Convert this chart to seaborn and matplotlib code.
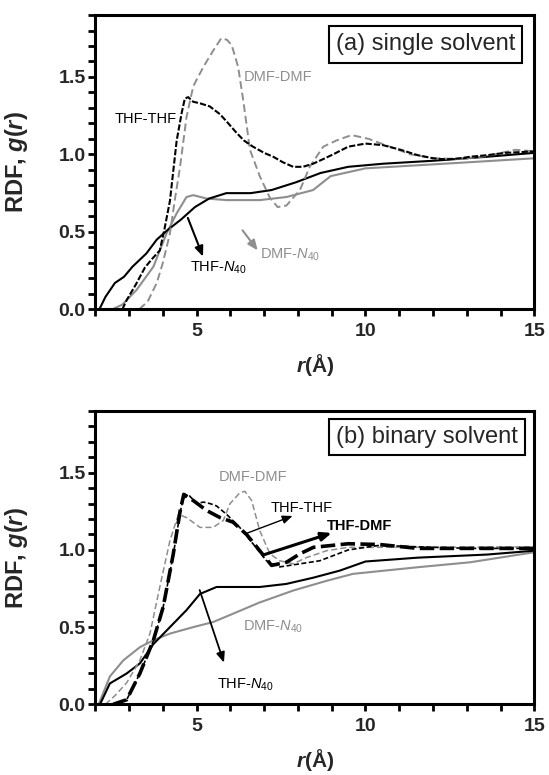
import matplotlib
matplotlib.use('Agg')
import matplotlib.pyplot as plt
from matplotlib.ticker import MultipleLocator
import pandas as pd
import seaborn as sns

# ---- panel (a): single solvent ----
a_thf_thf_r = [2.8, 2.93, 3.2, 3.47, 3.7, 3.91, 4.05, 4.21, 4.41, 4.56, 4.65, 4.75, 4.9, 5.1, 5.39, 5.69,
               5.9, 6.18, 6.4, 6.67, 7.0, 7.27, 7.55, 7.86, 8.15, 8.45, 8.75, 9.04, 9.49, 10.0, 10.52,
               11.04, 11.55, 12.0, 12.38, 12.8, 13.1, 13.6, 14.13, 14.6, 15.0]
a_thf_thf_g = [0.0, 0.06, 0.16, 0.27, 0.33, 0.38, 0.52, 0.70, 1.09, 1.27, 1.36, 1.37, 1.34, 1.33, 1.31, 1.26,
               1.21, 1.14, 1.09, 1.05, 1.01, 0.985, 0.95, 0.92, 0.92, 0.94, 0.97, 1.0, 1.05, 1.07, 1.06,
               1.03, 0.995, 0.975, 0.968, 0.975, 0.985, 0.995, 1.01, 1.015, 1.02]

a_dmf_dmf_r = [3.3, 3.55, 3.82, 4.0, 4.21, 4.35, 4.51, 4.7, 4.9, 5.2, 5.49, 5.73, 5.9, 6.04, 6.23, 6.38,
               6.58, 6.87, 7.17, 7.4, 7.66, 8.06, 8.35, 8.75, 9.14, 9.59, 10.1, 10.72, 11.34, 12.07,
               12.79, 13.6, 14.44, 15.0]
a_dmf_dmf_g = [0.0, 0.05, 0.17, 0.3, 0.49, 0.70, 0.92, 1.24, 1.44, 1.565, 1.67, 1.75, 1.74, 1.705, 1.565, 1.35,
               1.03, 0.86, 0.72, 0.66, 0.67, 0.77, 0.92, 1.05, 1.09, 1.125, 1.10, 1.05, 1.0, 0.975,
               0.97, 0.99, 1.03, 1.02]

a_thf_n40_r = [2.12, 2.3, 2.58, 2.85, 3.1, 3.51, 3.82, 4.13, 4.54, 4.95, 5.37, 5.88, 6.6, 7.22, 7.94,
               8.67, 9.49, 10.52, 12.07, 13.6, 15.0]
a_thf_n40_g = [0.0, 0.08, 0.17, 0.21, 0.275, 0.36, 0.45, 0.51, 0.58, 0.66, 0.715, 0.75, 0.75, 0.77, 0.82,
               0.88, 0.92, 0.94, 0.96, 0.985, 1.01]

a_dmf_n40_r = [2.5, 2.8, 3.22, 3.72, 4.11, 4.41, 4.70, 4.9, 5.3, 5.89, 6.87, 7.66, 8.45, 8.97, 10.0,
               11.55, 13.1, 15.0]
a_dmf_n40_g = [0.0, 0.03, 0.125, 0.275, 0.49, 0.62, 0.725, 0.737, 0.715, 0.705, 0.705, 0.725, 0.77, 0.86,
               0.91, 0.93, 0.95, 0.975]

# ---- panel (b): binary solvent ----
b_thf_dmf_r = [2.53, 2.93, 3.32, 3.72, 4.01, 4.31, 4.51, 4.62, 4.9, 5.3, 5.69, 6.08, 6.48, 6.87, 7.22,
               7.66, 8.06, 8.46, 9.49, 10.42, 11.55, 13.1, 15.0]
b_thf_dmf_g = [0.0, 0.03, 0.2, 0.415, 0.63, 0.975, 1.25, 1.36, 1.32, 1.255, 1.21, 1.18, 1.10, 0.995, 0.90,
               0.92, 0.975, 1.017, 1.04, 1.035, 1.01, 1.01, 1.01]

b_thf_thf_r = [2.53, 2.93, 3.32, 3.72, 4.01, 4.31, 4.51, 4.6, 4.75, 5.0, 5.2, 5.4, 5.59, 5.89, 6.28,
               6.67, 7.07, 7.46, 8.06, 8.65, 9.49, 10.42, 11.55, 13.1, 15.0]
b_thf_thf_g = [0.0, 0.03, 0.2, 0.41, 0.63, 0.97, 1.24, 1.33, 1.36, 1.30, 1.31, 1.30, 1.285, 1.23, 1.145,
               1.04, 0.93, 0.89, 0.91, 0.93, 1.0, 1.03, 1.02, 1.01, 1.01]

b_dmf_dmf_r = [2.3, 2.6, 2.93, 3.32, 3.62, 3.91, 4.21, 4.46, 4.70, 5.1, 5.49, 5.79, 5.99, 6.28, 6.43,
               6.63, 6.87, 7.17, 7.46, 7.86, 8.25, 8.85, 9.49, 11.55, 15.0]
b_dmf_dmf_g = [0.0, 0.06, 0.14, 0.285, 0.46, 0.76, 1.06, 1.23, 1.21, 1.146, 1.146, 1.19, 1.30, 1.37, 1.38,
               1.32, 1.125, 0.975, 0.93, 0.91, 0.95, 0.995, 1.017, 1.017, 1.02]

b_thf_n40_r = [2.14, 2.43, 2.93, 3.32, 3.72, 4.21, 4.70, 5.1, 5.59, 6.08, 6.87, 7.66, 8.45, 9.24, 10.0,
               11.55, 13.6, 15.0]
b_thf_n40_g = [0.0, 0.135, 0.2, 0.265, 0.39, 0.5, 0.61, 0.715, 0.76, 0.76, 0.76, 0.78, 0.82, 0.866, 0.925,
               0.95, 0.97, 0.995]

b_dmf_n40_r = [2.1, 2.43, 2.83, 3.32, 3.72, 4.21, 4.9, 5.49, 6.08, 6.87, 7.86, 8.85, 9.63, 11.55, 13.1, 15.0]
b_dmf_n40_g = [0.0, 0.18, 0.285, 0.37, 0.415, 0.458, 0.5, 0.533, 0.587, 0.66, 0.737, 0.80, 0.845, 0.888,
               0.92, 0.985]

y_ticks = [0.0, 0.5, 1.0, 1.5]
y_tick_labels = ['0.0', '0.5', '1.0', '1.5']
x_ticks = [5, 10, 15]
x_tick_labels = ['5', '10', '15']

GRAY = '#8e8e8e'

sns.set_style('ticks')
plt.rcParams['font.family'] = ['Liberation Sans', 'DejaVu Sans']
plt.rcParams['mathtext.fontset'] = 'custom'
plt.rcParams['mathtext.rm'] = 'Liberation Sans'
plt.rcParams['mathtext.it'] = 'Liberation Sans:italic'
plt.rcParams['mathtext.bf'] = 'Liberation Sans:bold'
plt.rcParams['mathtext.bfit'] = 'Liberation Sans:bold:italic'

fig = plt.figure(figsize=(5.49, 7.75), dpi=100)
ax_a = fig.add_axes([0.1736, 0.6009, 0.7996, 0.3797])
ax_b = fig.add_axes([0.1736, 0.0912, 0.7996, 0.3785])


def draw(ax, r, g, color, lw, ls):
    df = pd.DataFrame({'r': r, 'g': g})
    sns.lineplot(data=df, x='r', y='g', ax=ax, color=color, lw=lw, linestyle=ls,
                 estimator=None, sort=False)


def style_axes(ax, box_text, box_xy):
    ax.set_xlim(2, 15)
    ax.set_ylim(0, 1.9)
    ax.set_yticks(y_ticks)
    ax.set_yticklabels(y_tick_labels, fontweight='bold', fontsize=14)
    ax.set_xticks(x_ticks)
    ax.set_xticklabels(x_tick_labels, fontweight='bold', fontsize=14)
    ax.yaxis.set_minor_locator(MultipleLocator(0.1))
    ax.xaxis.set_minor_locator(MultipleLocator(1))
    ax.tick_params(which='both', direction='out', length=5, width=2, color='black')
    ax.tick_params(axis='y', pad=2)
    ax.tick_params(axis='x', pad=5)
    for s in ax.spines.values():
        s.set_visible(True)
        s.set_linewidth(2.2)
        s.set_color('black')
    ax.set_xlabel('$\\mathbfit{r}$(Å)', fontsize=15, fontweight='bold')
    ax.set_ylabel('RDF, $\\mathbfit{g}$($\\mathbfit{r}$)', fontsize=17, fontweight='bold')
    ax.yaxis.set_label_coords(-0.148, 0.5)
    ax.xaxis.set_label_coords(0.5, -0.145)
    ax.text(box_xy[0], box_xy[1], box_text, transform=ax.transAxes, ha='center', va='center',
            fontsize=17, bbox=dict(boxstyle='square,pad=0.3', fc='white', ec='black', lw=1.5))


def arrow(ax, start, end, color, lw):
    ax.annotate('', xy=end, xytext=start,
                arrowprops=dict(arrowstyle='-|>,head_length=0.6,head_width=0.25', color=color, lw=lw,
                                shrinkA=0, shrinkB=0))


# panel (a)
draw(ax_a, a_dmf_n40_r, a_dmf_n40_g, GRAY, 1.5, '-')
draw(ax_a, a_thf_n40_r, a_thf_n40_g, 'black', 1.5, '-')
draw(ax_a, a_dmf_dmf_r, a_dmf_dmf_g, GRAY, 1.4, (0, (4, 2)))
draw(ax_a, a_thf_thf_r, a_thf_thf_g, 'black', 1.5, (0, (3, 1)))
style_axes(ax_a, '(a) single solvent', (0.752, 0.90))

ax_a.text(6.4, 1.50, 'DMF-DMF', color=GRAY, fontsize=10.5, va='center')
ax_a.text(2.58, 1.23, 'THF-THF', color='black', fontsize=10.5, va='center')
ax_a.text(4.8, 0.27, 'THF-$\\mathit{N}_{\\mathrm{40}}$', color='black', fontsize=10.5, va='center')
ax_a.text(6.87, 0.35, 'DMF-$\\mathit{N}_{\\mathrm{40}}$', color=GRAY, fontsize=10.5, va='center')
arrow(ax_a, (4.74, 0.59), (5.19, 0.34), 'black', 1.5)
arrow(ax_a, (6.36, 0.51), (6.81, 0.38), GRAY, 1.5)

# panel (b)
draw(ax_b, b_dmf_n40_r, b_dmf_n40_g, GRAY, 1.5, '-')
draw(ax_b, b_thf_n40_r, b_thf_n40_g, 'black', 1.5, '-')
draw(ax_b, b_dmf_dmf_r, b_dmf_dmf_g, GRAY, 1.1, (0, (4, 2)))
draw(ax_b, b_thf_thf_r, b_thf_thf_g, 'black', 1.2, (0, (3, 1.5)))
draw(ax_b, b_thf_dmf_r, b_thf_dmf_g, 'black', 2.6, (0, (4, 1.5)))
style_axes(ax_b, '(b) binary solvent', (0.755, 0.91))

ax_b.text(5.66, 1.47, 'DMF-DMF', color=GRAY, fontsize=10.5, va='center')
ax_b.text(7.19, 1.27, 'THF-THF', color='black', fontsize=10.5, va='center')
ax_b.text(8.86, 1.157, 'THF-DMF', color='black', fontsize=10.5, va='center', fontweight='bold')
ax_b.text(6.36, 0.50, 'DMF-$\\mathit{N}_{\\mathrm{40}}$', color=GRAY, fontsize=10.5, va='center')
ax_b.text(5.6, 0.125, 'THF-$\\mathit{N}_{\\mathrm{40}}$', color='black', fontsize=10.5, va='center')
arrow(ax_b, (6.51, 1.11), (7.84, 1.22), 'black', 1.0)
arrow(ax_b, (7.01, 0.97), (9.0, 1.11), 'black', 2.2)
arrow(ax_b, (5.09, 0.74), (5.81, 0.27), 'black', 1.3)

fig.savefig('out.png', dpi=100)
